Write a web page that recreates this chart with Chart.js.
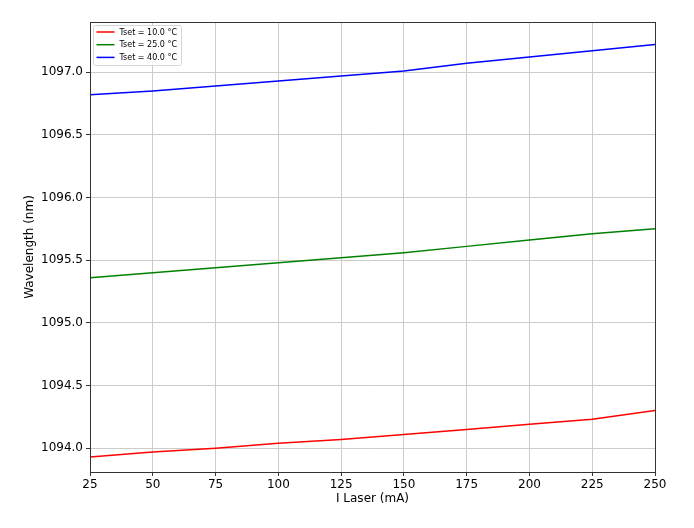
<!DOCTYPE html>
<html>
<head>
<meta charset="utf-8">
<script src="https://cdn.jsdelivr.net/npm/chart.js@4/dist/chart.umd.min.js"></script>
<style>
html,body{margin:0;padding:0;background:#fff;}
#wrap{width:694px;height:528px;}
</style>
</head>
<body>
<div id="wrap"><canvas id="c" width="694" height="528"></canvas></div>
<script>
// ---- data ----
const currents = [25, 50, 75, 100, 125, 150, 175, 200, 225, 250];
const wl10 = [1093.93, 1093.97, 1094.00, 1094.04, 1094.07, 1094.11, 1094.15, 1094.19, 1094.23, 1094.30];
const wl25 = [1095.36, 1095.40, 1095.44, 1095.48, 1095.52, 1095.56, 1095.61, 1095.66, 1095.71, 1095.75];
const wl40 = [1096.82, 1096.85, 1096.89, 1096.93, 1096.97, 1097.01, 1097.07, 1097.12, 1097.17, 1097.22];
const seriesLabels = ['Tset = 10.0 °C', 'Tset = 25.0 °C', 'Tset = 40.0 °C'];
const seriesColors = ['#ff0000', '#008000', '#0000ff'];
const xTitle = 'I Laser (mA)';
const yTitle = 'Wavelength (nm)';

const FONT = "'DejaVu Sans', sans-serif";
Chart.defaults.font.family = FONT;
Chart.defaults.color = '#000';

const toXY = (arr) => currents.map((x, i) => ({x: x, y: arr[i]}));

const framePlugin = {
  id: 'frame',
  afterDatasetsDraw(chart) {
    const a = chart.chartArea, ctx = chart.ctx;
    ctx.save();
    ctx.strokeStyle = '#333';
    ctx.lineWidth = 1;
    ctx.strokeRect(Math.round(a.left) + 0.5, Math.round(a.top) + 0.5,
                   Math.round(a.right - a.left), Math.round(a.bottom - a.top));
    ctx.restore();
  }
};

const legendPlugin = {
  id: 'boxLegend',
  afterDraw(chart) {
    const a = chart.chartArea, ctx = chart.ctx;
    const x0 = a.left + 3.5, y0 = a.top + 3.5;
    const rowH = 12.7, w = 88, h = 40;
    ctx.save();
    ctx.fillStyle = 'rgba(255,255,255,0.8)';
    ctx.strokeStyle = '#d6d6d6';
    ctx.lineWidth = 1;
    const r = 2;
    ctx.beginPath();
    ctx.moveTo(x0 + r, y0);
    ctx.lineTo(x0 + w - r, y0); ctx.arcTo(x0 + w, y0, x0 + w, y0 + r, r);
    ctx.lineTo(x0 + w, y0 + h - r); ctx.arcTo(x0 + w, y0 + h, x0 + w - r, y0 + h, r);
    ctx.lineTo(x0 + r, y0 + h); ctx.arcTo(x0, y0 + h, x0, y0 + h - r, r);
    ctx.lineTo(x0, y0 + r); ctx.arcTo(x0, y0, x0 + r, y0, r);
    ctx.closePath();
    ctx.fill(); ctx.stroke();
    ctx.font = "8px " + FONT;
    ctx.textBaseline = 'middle';
    ctx.fillStyle = '#000';
    chart.data.datasets.forEach((ds, i) => {
      const yy = y0 + 6.5 + i * rowH;
      ctx.strokeStyle = ds.borderColor;
      ctx.lineWidth = 1.5;
      ctx.beginPath();
      ctx.moveTo(x0 + 3, yy); ctx.lineTo(x0 + 21, yy);
      ctx.stroke();
      ctx.fillText(ds.label, x0 + 26, yy + 0.5);
    });
    ctx.restore();
  }
};

new Chart(document.getElementById('c'), {
  type: 'line',
  data: {
    datasets: [wl10, wl25, wl40].map((arr, i) => ({
      label: seriesLabels[i],
      data: toXY(arr),
      borderColor: seriesColors[i],
      backgroundColor: seriesColors[i],
      borderWidth: 1.5,
      pointRadius: 0,
      tension: 0,
      fill: false
    }))
  },
  options: {
    responsive: false,
    animation: false,
    devicePixelRatio: 1,
    layout: {padding: {top: 22, right: 39, left: 0, bottom: 0}},
    plugins: {legend: {display: false}, tooltip: {enabled: false}},
    scales: {
      x: {
        type: 'linear',
        min: 25, max: 250,
        afterFit(s) { s.height = 56; },
        ticks: {stepSize: 25, font: {size: 12}, color: '#000', padding: 2, includeBounds: false,
                callback: v => String(v)},
        grid: {color: '#cccccc', lineWidth: 1, tickLength: 4, tickColor: '#333'},
        border: {display: false},
        title: {display: true, text: xTitle, font: {size: 12}, color: '#000', padding: {top: 0, bottom: 22}}
      },
      y: {
        type: 'linear',
        min: 1093.81, max: 1097.40,
        afterFit(s) { s.width = 90; },
        ticks: {stepSize: 0.5, font: {size: 12}, color: '#000', padding: 3, includeBounds: false,
                callback: v => Number(v).toFixed(1)},
        grid: {color: '#cccccc', lineWidth: 1, tickLength: 4, tickColor: '#333'},
        border: {display: false},
        title: {display: true, text: yTitle, font: {size: 12}, color: '#000', padding: {top: 22.8, bottom: 0}}
      }
    }
  },
  plugins: [framePlugin, legendPlugin]
});
</script>
</body>
</html>
